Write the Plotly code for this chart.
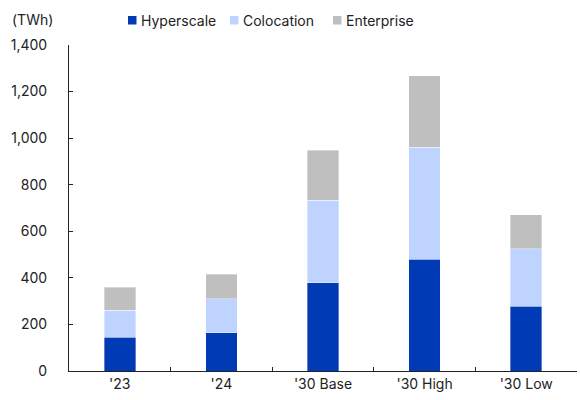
import plotly.graph_objects as go

categories = ["'23", "'24", "'30 Base", "'30 High", "'30 Low"]
hyperscale = [146, 165, 379, 480, 278]
colocation = [115, 146, 355, 481, 248]
enterprise = [99, 105, 214, 307, 144]
series_names = ["Hyperscale", "Colocation", "Enterprise"]
y_ticks = [0, 200, 400, 600, 800, 1000, 1200, 1400]
y_tick_labels = ["0", "200", "400", "600", "800", "1,000", "1,200", "1,400"]

colors = {"Hyperscale": "#003AB5", "Colocation": "#BFD3FF", "Enterprise": "#BFBFBF"}

W, H = 580, 400
ML, MR, MT, MB = 69, 3, 45, 29
PW = W - ML - MR
PH = H - MT - MB

fig = go.Figure()
for name, vals in zip(series_names, [hyperscale, colocation, enterprise]):
    fig.add_trace(go.Bar(x=categories, y=vals, name=name,
                         marker=dict(color=colors[name], line=dict(width=0.6, color="rgba(255,255,255,0.6)"))))

font = dict(family="Inter, Noto Sans, sans-serif", size=14, color="#222222")

def px2x(px):
    return (px - ML) / PW

def py2y(py):
    return (H - MB - py) / PH

# custom legend (square + label), positioned in paper coords
legend_sq_left = [128, 230, 333]
shapes = []
annotations = []
for name, sx in zip(series_names, legend_sq_left):
    shapes.append(dict(type="rect", xref="paper", yref="paper",
                       x0=px2x(sx), x1=px2x(sx + 8.5), y0=py2y(24.5), y1=py2y(16),
                       fillcolor=colors[name], line=dict(width=0)))
    annotations.append(dict(text=name, xref="paper", yref="paper", x=px2x(sx + 11), y=py2y(20),
                            xanchor="left", yanchor="middle", showarrow=False, font=font))

annotations.append(dict(text="(TWh)", xref="paper", yref="paper", x=px2x(32), y=py2y(19),
                        xanchor="center", yanchor="middle", showarrow=False, font=font))

fig.update_layout(
    barmode="stack",
    bargap=0.69,
    width=W, height=H,
    margin=dict(l=ML, r=MR, t=MT, b=MB),
    paper_bgcolor="white", plot_bgcolor="white",
    font=font,
    showlegend=False,
    xaxis=dict(showline=True, linecolor="#222222", linewidth=1, ticks="inside", ticklen=4,
               tickcolor="#222222", tickson="boundaries", showgrid=False, tickfont=font),
    yaxis=dict(range=[0, 1400], showline=True, linecolor="#222222", linewidth=1,
               ticks="inside", ticklen=4, tickcolor="#222222", showgrid=False, zeroline=False,
               tickvals=y_ticks, ticktext=y_tick_labels, tickfont=font, ticklabelstandoff=18),
    shapes=shapes,
    annotations=annotations,
)
fig.write_html("out.html")
